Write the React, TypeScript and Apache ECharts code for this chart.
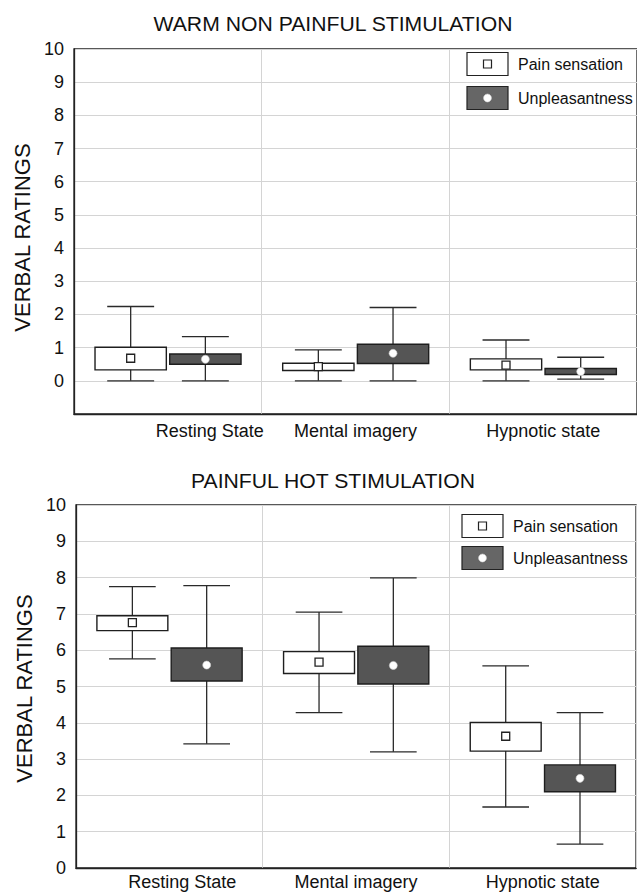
import React, { useEffect, useRef } from 'react';
import * as echarts from 'echarts';

const categories = ['Resting State', 'Mental imagery', 'Hypnotic state'];
const panelTitles = ['WARM NON PAINFUL STIMULATION', 'PAINFUL HOT STIMULATION'];
const legendLabels = ['Pain sensation', 'Unpleasantness'];
const yAxisName = 'VERBAL RATINGS';

// each entry: [min, q1, mean, q3, max]
const warmPain = [
  [0, 0.33, 0.68, 1.01, 2.24],
  [0, 0.31, 0.43, 0.53, 0.93],
  [0, 0.33, 0.47, 0.66, 1.23],
];
const warmUnpleasant = [
  [0, 0.5, 0.65, 0.81, 1.33],
  [0, 0.52, 0.83, 1.1, 2.21],
  [0.05, 0.19, 0.28, 0.37, 0.71],
];
const hotPain = [
  [5.76, 6.54, 6.76, 6.95, 7.75],
  [4.28, 5.36, 5.67, 5.96, 7.05],
  [1.68, 3.22, 3.63, 4.01, 5.57],
];
const hotUnpleasant = [
  [3.42, 5.15, 5.59, 6.06, 7.78],
  [3.2, 5.07, 5.58, 6.11, 7.99],
  [0.66, 2.1, 2.47, 2.84, 4.28],
];

const FONT = '"Liberation Sans", Arial, Helvetica, sans-serif';
const DARK = '#555555';

const toData = (rows: number[][]) => rows.map((r, i) => [i, ...r]);

const makeRender = (offset: number, kind: 'pain' | 'unpl') => (params: any, api: any) => {
  const cat = api.value(0);
  const band = api.size([1, 0])[0];
  const base = api.coord([cat, api.value(1)]);
  const cx = base[0] + offset * band;
  const yMin = base[1];
  const yQ1 = api.coord([cat, api.value(2)])[1];
  const yMean = api.coord([cat, api.value(3)])[1];
  const yQ3 = api.coord([cat, api.value(4)])[1];
  const yMax = api.coord([cat, api.value(5)])[1];
  const bw = band * 0.38;
  const cw = band * 0.25;
  const ls = { stroke: '#2a2a2a', lineWidth: 1.3, fill: null };
  const children: any[] = [
    { type: 'line', shape: { x1: cx, y1: yMax, x2: cx, y2: yMin }, style: ls },
    { type: 'line', shape: { x1: cx - cw / 2, y1: yMax, x2: cx + cw / 2, y2: yMax }, style: ls },
    { type: 'line', shape: { x1: cx - cw / 2, y1: yMin, x2: cx + cw / 2, y2: yMin }, style: ls },
    {
      type: 'rect',
      shape: { x: cx - bw / 2, y: yQ3, width: bw, height: yQ1 - yQ3 },
      style: { fill: kind === 'pain' ? '#ffffff' : DARK, stroke: '#1e1e1e', lineWidth: 1.4 },
    },
    kind === 'pain'
      ? {
          type: 'rect',
          shape: { x: cx - 4, y: yMean - 4, width: 8, height: 8 },
          style: { fill: '#ffffff', stroke: '#222222', lineWidth: 1.3 },
        }
      : {
          type: 'circle',
          shape: { cx, cy: yMean, r: 4 },
          style: { fill: '#ffffff', stroke: '#cccccc', lineWidth: 0.6 },
        },
  ];
  return { type: 'group', children };
};

const legendGraphics = (bx: number, y1: number, y2: number, tx: number) => {
  const bw = 41;
  const bh = 23;
  return [
    { type: 'rect', shape: { x: bx, y: y1 - bh / 2, width: bw, height: bh }, style: { fill: '#fff', stroke: '#222', lineWidth: 1.2 } },
    { type: 'rect', shape: { x: bx + bw / 2 - 4, y: y1 - 4, width: 8, height: 8 }, style: { fill: '#fff', stroke: '#222', lineWidth: 1.2 } },
    { type: 'text', x: tx, y: y1, style: { text: legendLabels[0], font: `16px ${FONT}`, fill: '#111', align: 'left', verticalAlign: 'middle' } },
    { type: 'rect', shape: { x: bx, y: y2 - bh / 2, width: bw, height: bh }, style: { fill: '#666666', stroke: '#222', lineWidth: 1.2 } },
    { type: 'circle', shape: { cx: bx + bw / 2, cy: y2, r: 4 }, style: { fill: '#fff', stroke: '#ccc', lineWidth: 0.6 } },
    { type: 'text', x: tx, y: y2, style: { text: legendLabels[1], font: `16px ${FONT}`, fill: '#111', align: 'left', verticalAlign: 'middle' } },
  ];
};

const xAxisCommon = (firstPad: number, margin: number) => ({
  type: 'category',
  data: categories,
  boundaryGap: true,
  axisTick: { show: false },
  axisLine: { show: true, onZero: false, lineStyle: { color: '#222', width: 1.3 } },
  splitLine: { show: true, lineStyle: { color: '#d4d4d4', width: 1 } },
  axisLabel: {
    interval: 0,
    margin,
    formatter: (v: string, i: number) => (i === 0 ? `{r|${v}}` : `{n|${v}}`),
    rich: {
      r: { fontSize: 18, fontFamily: FONT, color: '#111', padding: [0, 0, 0, firstPad] },
      n: { fontSize: 18, fontFamily: FONT, color: '#111' },
    },
  },
});

const yAxisCommon = (min: number, namePad: number) => ({
  type: 'value',
  min,
  max: 10,
  interval: 1,
  name: yAxisName,
  nameLocation: 'middle',
  nameRotate: 90,
  nameGap: 40,
  nameTextStyle: { fontSize: 22, fontFamily: FONT, color: '#111', padding: [0, namePad, 0, 0] },
  axisTick: { show: false },
  axisLine: { show: true, lineStyle: { color: '#222', width: 1.3 } },
  splitLine: { show: true, lineStyle: { color: '#d4d4d4', width: 1 } },
  axisLabel: {
    margin: 10,
    fontSize: 18,
    fontFamily: FONT,
    color: '#111',
    formatter: (v: number) => (v < 0 ? '' : String(v)),
  },
});

export default function App() {
  const ref = useRef<HTMLDivElement>(null);
  useEffect(() => {
    if (!ref.current) return;
    const chart = echarts.init(ref.current, null, { renderer: 'svg' });
    const option: any = {
      animation: false,
      backgroundColor: '#ffffff',
      grid: [
        { left: 74, top: 49, width: 568, height: 365, show: true, borderColor: '#222', borderWidth: 1.3, backgroundColor: 'transparent' },
        { left: 76, top: 505, width: 560, height: 363, show: true, borderColor: '#222', borderWidth: 1.3, backgroundColor: 'transparent' },
      ],
      xAxis: [
        { ...xAxisCommon(84, 8), gridIndex: 0 },
        { ...xAxisCommon(26, 5), gridIndex: 1 },
      ],
      yAxis: [
        { ...yAxisCommon(-1, 12), gridIndex: 0 },
        { ...yAxisCommon(0, 4), gridIndex: 1 },
      ],
      series: [
        { type: 'custom', name: legendLabels[0], xAxisIndex: 0, yAxisIndex: 0, renderItem: makeRender(-0.198, 'pain'), encode: { x: 0, y: [1, 2, 3, 4, 5] }, data: toData(warmPain) },
        { type: 'custom', name: legendLabels[1], xAxisIndex: 0, yAxisIndex: 0, renderItem: makeRender(0.2, 'unpl'), encode: { x: 0, y: [1, 2, 3, 4, 5] }, data: toData(warmUnpleasant) },
        { type: 'custom', name: legendLabels[0], xAxisIndex: 1, yAxisIndex: 1, renderItem: makeRender(-0.198, 'pain'), encode: { x: 0, y: [1, 2, 3, 4, 5] }, data: toData(hotPain) },
        { type: 'custom', name: legendLabels[1], xAxisIndex: 1, yAxisIndex: 1, renderItem: makeRender(0.2, 'unpl'), encode: { x: 0, y: [1, 2, 3, 4, 5] }, data: toData(hotUnpleasant) },
      ],
      graphic: [
        { type: 'text', x: 333, y: 24, scaleX: 1.06, style: { text: panelTitles[0], font: `20px ${FONT}`, fill: '#111', align: 'center', verticalAlign: 'middle' } },
        { type: 'text', x: 333, y: 481, scaleX: 1.06, style: { text: panelTitles[1], font: `20px ${FONT}`, fill: '#111', align: 'center', verticalAlign: 'middle' } },
        ...legendGraphics(467, 64, 98, 518),
        ...legendGraphics(462, 526, 558, 513),
      ],
    };
    chart.setOption(option);
    return () => chart.dispose();
  }, []);
  return <div ref={ref} style={{ position: 'absolute', left: 0, top: 0, width: 637, height: 892 }} />;
}
